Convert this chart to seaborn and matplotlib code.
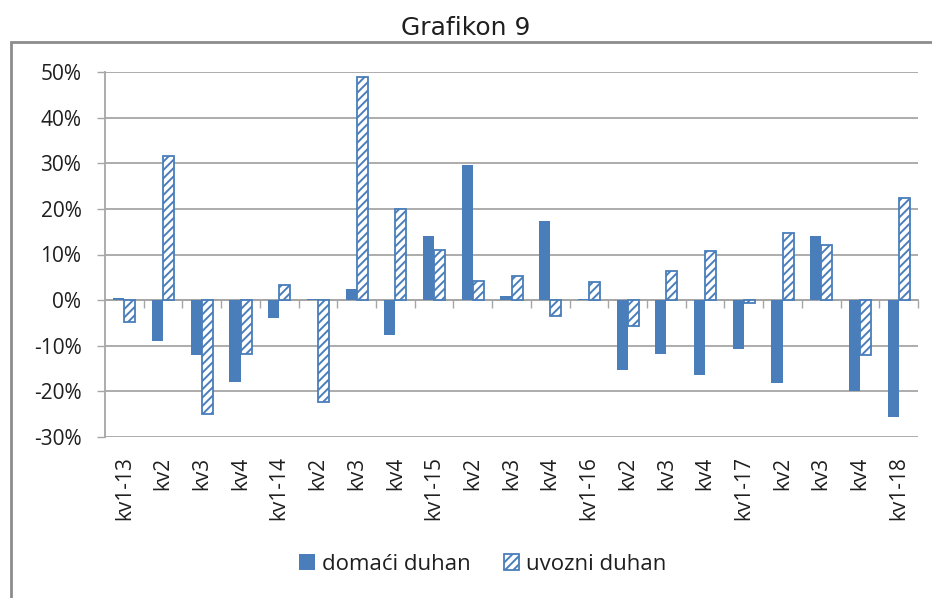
import matplotlib
matplotlib.use("Agg")
import matplotlib.pyplot as plt
from matplotlib.patches import Patch, Rectangle
import seaborn as sns
import pandas as pd
import numpy as np

categories = ["kv1-13", "kv2", "kv3", "kv4",
              "kv1-14", "kv2", "kv3", "kv4",
              "kv1-15", "kv2", "kv3", "kv4",
              "kv1-16", "kv2", "kv3", "kv4",
              "kv1-17", "kv2", "kv3", "kv4",
              "kv1-18"]
domaci = [0.5, -9.0, -12.1, -18.0,
          -4.0, 0.2, 2.5, -7.7,
          14.0, 29.6, 0.9, 17.3,
          0.3, -15.3, -11.9, -16.4,
          -10.7, -18.2, 14.0, -19.9,
          -25.7]
uvozni = [-4.8, 31.6, -25.0, -11.8,
          3.4, -22.4, 48.9, 19.9,
          11.0, 4.2, 5.3, -3.5,
          3.9, -5.7, 6.3, 10.7,
          -0.6, 14.7, 12.1, -12.1,
          22.4]
series_names = ["domaći duhan", "uvozni duhan"]
yticks = [-30, -20, -10, 0, 10, 20, 30, 40, 50]
title = "Grafikon 9"

BLUE = "#4a7ebb"
GRID = "#a6a6a6"
TXT = "#1f1f1f"

sns.set_theme(style="white")
plt.rcParams["font.family"] = ["Open Sans", "DejaVu Sans"]
plt.rcParams["hatch.linewidth"] = 1.4

n = len(categories)
df = pd.DataFrame({
    "idx": list(range(n)) * 2,
    "value": list(np.array(domaci) / 100) + list(np.array(uvozni) / 100),
    "serija": [series_names[0]] * n + [series_names[1]] * n,
})

fig = plt.figure(figsize=(9.32, 5.98), dpi=100)
ax = fig.add_axes([105 / 932, 1 - 437 / 598, (918 - 105) / 932, (437 - 72) / 598])

sns.barplot(data=df, x="idx", y="value", hue="serija", order=list(range(n)),
            hue_order=series_names, palette=[BLUE, BLUE], width=0.57, gap=0,
            dodge=True, legend=False, ax=ax, saturation=1, errorbar=None)

for p in ax.containers[0]:
    p.set_facecolor(BLUE)
    p.set_edgecolor("none")
for p in ax.containers[1]:
    p.set_facecolor("white")
    p.set_edgecolor(BLUE)
    p.set_hatch("////")
    p.set_linewidth(1.3)

ax.set_ylim(-0.30, 0.50)
ax.set_xlim(-0.5, n - 0.5)
ax.set_yticks([v / 100 for v in yticks])
ax.set_yticklabels([f"{v}%" for v in yticks], fontsize=15, color=TXT)
ax.set_xticks(range(n))
ax.set_xticklabels(categories, rotation=90, fontsize=15, color=TXT)
ax.tick_params(axis="x", length=0, pad=14)
ax.tick_params(axis="y", length=6, width=1, color=GRID, direction="out", pad=11, left=True)
ax.set_xlabel("")
ax.set_ylabel("")
ax.yaxis.grid(True, color=GRID, linewidth=1.3)
ax.set_axisbelow(True)
for s in ["top", "right", "bottom"]:
    ax.spines[s].set_visible(False)
ax.spines["left"].set_color(GRID)
ax.spines["left"].set_linewidth(1.3)

# category axis crossing at zero with boundary tick marks
sec = ax.secondary_xaxis(0.375)
sec.set_xticks(np.arange(0.5, n, 1.0))
sec.set_xticklabels([])
sec.tick_params(axis="x", length=6, width=1, color=GRID, direction="out")
sec.spines["bottom"].set_color(GRID)
sec.spines["bottom"].set_linewidth(1.3)

handles = [Patch(facecolor=BLUE, edgecolor="none", label=series_names[0]),
           Patch(facecolor="white", edgecolor=BLUE, hatch="////", linewidth=1.3,
                 label=series_names[1])]
fig.legend(handles=handles, loc="center", bbox_to_anchor=(0.518, 1 - 564 / 598),
           ncol=2, frameon=False, fontsize=16, handlelength=0.7, handleheight=0.7,
           handletextpad=0.3, columnspacing=1.5, labelcolor=TXT)

fig.text(0.5, 1 - 28 / 598, title, ha="center", va="center", fontsize=18,
         family=["DejaVu Sans"], color=TXT)

frame = Rectangle((11 / 932, -0.05), 1.2, 1 - 42 / 598 + 0.05, transform=fig.transFigure,
                  fill=False, edgecolor="#8c8c8c", linewidth=2, clip_on=False)
fig.add_artist(frame)

fig.savefig("out.png", dpi=100)
